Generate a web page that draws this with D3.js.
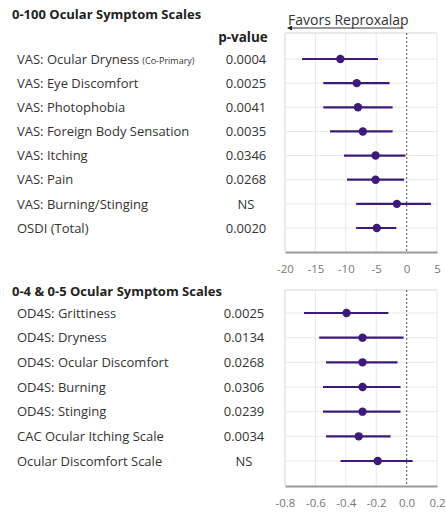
<!DOCTYPE html>
<html>
<head>
<meta charset="utf-8">
<script src="https://cdn.jsdelivr.net/npm/d3@7"></script>
<style>
  body { margin: 0; background: #fff; }
  text { font-family: "Open Sans", sans-serif; }
</style>
</head>
<body>
<div id="chart"></div>
<script>
// top panel: 0-100 scales
let vasLabels = ["VAS: Ocular Dryness", "VAS: Eye Discomfort", "VAS: Photophobia", "VAS: Foreign Body Sensation",
    "VAS: Itching", "VAS: Pain", "VAS: Burning/Stinging", "OSDI (Total)"];
let vasP = ["0.0004", "0.0025", "0.0041", "0.0035", "0.0346", "0.0268", "NS", "0.0020"];
let vasEst = [-10.9, -8.2, -8.0, -7.2, -5.1, -5.1, -1.6, -4.9];
let vasLo = [-17.2, -13.7, -13.7, -12.6, -10.3, -9.8, -8.3, -8.3];
let vasHi = [-4.7, -2.8, -2.3, -2.3, -0.2, -0.4, 4.0, -1.7];
let vasTicks = [-20, -15, -10, -5, 0, 5];

// bottom panel: 0-4 & 0-5 scales
let odLabels = ["OD4S: Grittiness", "OD4S: Dryness", "OD4S: Ocular Discomfort", "OD4S: Burning",
    "OD4S: Stinging", "CAC Ocular Itching Scale", "Ocular Discomfort Scale"];
let odP = ["0.0025", "0.0134", "0.0268", "0.0306", "0.0239", "0.0034", "NS"];
let odEst = [-0.395, -0.29, -0.29, -0.29, -0.29, -0.315, -0.19];
let odLo = [-0.675, -0.575, -0.53, -0.55, -0.55, -0.53, -0.435];
let odHi = [-0.12, -0.02, -0.06, -0.04, -0.04, -0.105, 0.04];
let odTicks = [-0.8, -0.6, -0.4, -0.2, 0.0, 0.2];

let purple = "#3d1a7a";

let svg = d3.select("#chart")
    .append("svg")
    .attr("width", 446)
    .attr("height", 512);

function panel(opts) {
    let data = opts.labels.map((l, i) => ({label: l, p: opts.p[i], est: opts.est[i], lo: opts.lo[i], hi: opts.hi[i]}));

    let x = d3.scaleLinear().domain(opts.domain).range([285, 437]);
    let y = d3.scalePoint().domain(opts.labels).range([opts.firstRow, opts.lastRow]);

    let g = svg.append("g");

    // title
    g.append("text")
        .attr("x", 12)
        .attr("y", opts.titleY)
        .attr("font-size", 13)
        .attr("font-weight", "bold")
        .attr("fill", "#222")
        .text(opts.title);

    // vertical gridlines
    g.selectAll(".vgrid")
        .data(opts.ticks)
        .enter()
        .append("line")
        .attr("x1", d => x(d))
        .attr("x2", d => x(d))
        .attr("y1", opts.top)
        .attr("y2", opts.bottom)
        .attr("stroke", (d, i) => i === 0 ? "#d4d4d4" : "#e8e8e8")
        .attr("stroke-width", 1)
        .style("display", d => d === 0 ? "none" : null);

    // horizontal gridlines
    g.selectAll(".hgrid")
        .data(data)
        .enter()
        .append("line")
        .attr("x1", x(opts.domain[0]))
        .attr("x2", x(opts.domain[1]))
        .attr("y1", d => y(d.label))
        .attr("y2", d => y(d.label))
        .attr("stroke", "#e8e8e8");

    // top border
    g.append("line")
        .attr("x1", x(opts.domain[0]))
        .attr("x2", x(opts.domain[1]))
        .attr("y1", opts.top)
        .attr("y2", opts.top)
        .attr("stroke", "#d4d4d4");

    // zero line
    g.append("line")
        .attr("x1", x(0))
        .attr("x2", x(0))
        .attr("y1", opts.top)
        .attr("y2", opts.bottom)
        .attr("stroke", "#777")
        .attr("stroke-width", 1.3)
        .attr("stroke-dasharray", "2,2");

    // axis
    let axis = d3.axisBottom(x).tickValues(opts.ticks).tickSize(0).tickPadding(13)
        .tickFormat(d => opts.fmt(d).replace("\u2212", "-"));
    let ax = g.append("g")
        .attr("transform", "translate(0," + opts.bottom + ")")
        .call(axis);
    ax.select(".domain").attr("stroke", "#999").attr("stroke-width", 2);
    ax.selectAll("text")
        .attr("fill", "#777")
        .attr("font-size", 11.5)
        .attr("font-family", "Open Sans");

    // CI lines
    g.selectAll(".ci")
        .data(data)
        .enter()
        .append("line")
        .attr("x1", d => x(d.lo))
        .attr("x2", d => x(d.hi))
        .attr("y1", d => y(d.label))
        .attr("y2", d => y(d.label))
        .attr("stroke", purple)
        .attr("stroke-width", 2.2);

    g.selectAll(".pt")
        .data(data)
        .enter()
        .append("circle")
        .attr("cx", d => x(d.est))
        .attr("cy", d => y(d.label))
        .attr("r", 4.2)
        .attr("fill", purple);

    // row labels
    let lab = g.selectAll(".lab")
        .data(data)
        .enter()
        .append("text")
        .attr("x", 17)
        .attr("y", d => y(d.label))
        .attr("dy", "0.36em")
        .attr("font-size", 13)
        .attr("fill", "#333")
        .text(d => d.label);

    if (opts.note) {
        lab.filter((d, i) => i === 0)
            .append("tspan")
            .attr("font-size", 9)
            .attr("dx", 3)
            .text(opts.note);
    }

    // p-values
    g.selectAll(".pv")
        .data(data)
        .enter()
        .append("text")
        .attr("x", opts.pX)
        .attr("y", d => y(d.label))
        .attr("dy", "0.36em")
        .attr("text-anchor", "middle")
        .attr("font-size", 13)
        .attr("fill", "#333")
        .text(d => d.p);

    return x;
}

let xTop = panel({
    title: "0-100 Ocular Symptom Scales", titleY: 19,
    labels: vasLabels, p: vasP, est: vasEst, lo: vasLo, hi: vasHi,
    domain: [-20, 5], ticks: vasTicks, fmt: d3.format("d"),
    top: 33, bottom: 252, firstRow: 59, lastRow: 228, pX: 246,
    note: "(Co-Primary)"
});

panel({
    title: "0-4 & 0-5 Ocular Symptom Scales", titleY: 296,
    labels: odLabels, p: odP, est: odEst, lo: odLo, hi: odHi,
    domain: [-0.8, 0.2], ticks: odTicks, fmt: d3.format(".1f"),
    top: 290, bottom: 486, firstRow: 313, lastRow: 461, pX: 244
});

// p-value header
svg.append("text")
    .attr("x", 243)
    .attr("y", 42)
    .attr("text-anchor", "middle")
    .attr("font-size", 13.5)
    .attr("font-weight", "bold")
    .attr("fill", "#222")
    .text("p-value");

// favors label with arrow
svg.append("defs").append("marker")
    .attr("id", "arr")
    .attr("viewBox", "0 0 10 10")
    .attr("refX", 2)
    .attr("refY", 5)
    .attr("markerWidth", 5)
    .attr("markerHeight", 5)
    .attr("orient", "auto-start-reverse")
    .append("path")
    .attr("d", "M0,0 L10,5 L0,10 z")
    .attr("fill", "#222");

svg.append("text")
    .attr("x", 288)
    .attr("y", 25)
    .attr("font-size", 14)
    .attr("fill", "#333")
    .text("Favors Reproxalap");

svg.append("line")
    .attr("x1", xTop(0) - 3)
    .attr("x2", 291)
    .attr("y1", 28)
    .attr("y2", 28)
    .attr("stroke", "#333")
    .attr("stroke-width", 1)
    .attr("marker-end", "url(#arr)");
</script>
</body>
</html>
